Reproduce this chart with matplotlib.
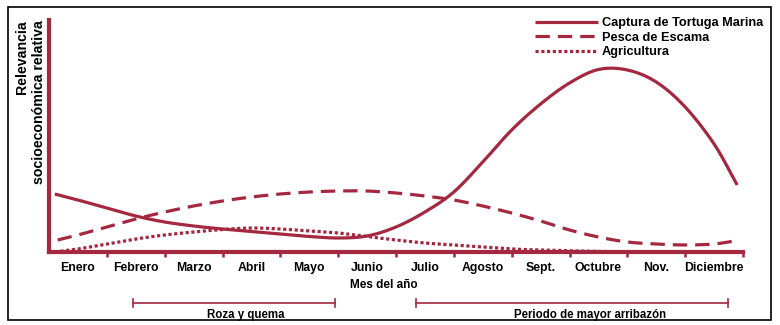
import matplotlib
matplotlib.use("Agg")
import matplotlib.pyplot as plt
import matplotlib.transforms as mtransforms
from matplotlib.patches import Rectangle
import numpy as np

plt.rcParams['font.family'] = ['Liberation Sans', 'DejaVu Sans']

# ---- data (x in months, 0 = start of Enero) ----
months = ["Enero", "Febrero", "Marzo", "Abril", "Mayo", "Junio", "Julio",
          "Agosto", "Sept.", "Octubre", "Nov.", "Diciembre"]

tortuga_x = [0.1, 0.5, 1.0, 1.5, 2.0, 2.5, 3.0, 3.5, 4.0, 4.5, 5.0, 5.5, 6.0,
             6.5, 7.0, 7.5, 8.0, 8.5, 9.0, 9.5, 10.0, 10.5, 11.0, 11.5, 11.9]
tortuga_y = [58, 52, 44, 36, 30, 26, 23, 20.5, 18, 15.5, 14, 16, 25,
             40, 60, 90, 122, 148, 169, 182.5, 182, 170, 145, 108, 67]

escama_x = [0.15, 0.5, 1.0, 1.5, 2.0, 2.5, 3.0, 3.5, 4.0, 4.5, 5.0, 5.5, 6.0,
            6.5, 7.0, 7.5, 8.0, 8.5, 9.0, 9.5, 10.0, 10.5, 11.0, 11.5, 11.85]
escama_y = [12, 17, 25, 33, 40, 46, 51, 55, 58, 60, 61, 61, 59,
            56, 52, 46, 39, 31, 22, 15, 10, 8, 7, 8, 11]

agri_x = [0.1, 0.5, 1.0, 1.5, 2.0, 2.5, 3.0, 3.5, 4.0, 4.5, 5.0, 5.5, 6.0,
          6.5, 7.0, 7.5, 8.0, 8.5, 9.0, 9.5, 10.0, 11.0, 11.9]
agri_y = [0, 3, 8, 13, 17, 20, 22.5, 24, 23, 21, 19, 15.5, 12,
          9, 7, 5, 3, 2, 1.2, 0.6, 0.2, 0, 0]

series_labels = ["Captura de Tortuga Marina", "Pesca de Escama", "Agricultura"]

periods = ["Roza y quema", "Periodo de mayor arribazón"]
period_start = [1.45, 6.34]
period_end = [4.95, 11.74]
period_label_x = [3.40, 9.36]


def smooth(xs, ys, n=12):
    """Catmull-Rom rendering of the read points (passes through every point)."""
    x = np.asarray(xs, float)
    y = np.asarray(ys, float)
    px = np.concatenate([[2 * x[0] - x[1]], x, [2 * x[-1] - x[-2]]])
    py = np.concatenate([[2 * y[0] - y[1]], y, [2 * y[-1] - y[-2]]])
    ox, oy = [], []
    t = np.linspace(0, 1, n, endpoint=False)
    for i in range(1, len(px) - 2):
        for arr, out in ((px, ox), (py, oy)):
            p0, p1, p2, p3 = arr[i - 1], arr[i], arr[i + 1], arr[i + 2]
            out.extend(0.5 * (2 * p1 + (-p0 + p2) * t +
                              (2 * p0 - 5 * p1 + 4 * p2 - p3) * t ** 2 +
                              (-p0 + 3 * p1 - 3 * p2 + p3) * t ** 3))
    ox.append(x[-1])
    oy.append(y[-1])
    return np.array(ox), np.array(oy)


# ---- styling ----
C = '#a4283f'
W, H = 780, 325
fig = plt.figure(figsize=(W / 100, H / 100), dpi=100)
ax = fig.add_axes([49 / W, (H - 252) / H, (743 - 49) / W, (252 - 20) / H])

ax.plot(*smooth(tortuga_x, tortuga_y), color=C, lw=2.3, solid_capstyle='butt',
        label=series_labels[0], zorder=3)
ax.plot(*smooth(escama_x, escama_y), color=C, lw=2.3, dashes=(4.5, 2.5),
        label=series_labels[1], zorder=3)
ax.plot(*smooth(agri_x, agri_y), color=C, lw=2.3, dashes=(1.0, 0.8),
        label=series_labels[2], zorder=3)

ax.set_xlim(0, 12)
ax.set_ylim(0, 232)

for s in ['top', 'right']:
    ax.spines[s].set_visible(False)
for s in ['left', 'bottom']:
    ax.spines[s].set_color(C)
    ax.spines[s].set_linewidth(3)
    ax.spines[s].set_zorder(4)

ax.set_yticks([])
centers = np.arange(len(months)) + 0.5
ax.set_xticks(centers)
ax.set_xticklabels(months, fontsize=8.8, fontweight='bold')
ax.tick_params(axis='x', which='major', length=0, pad=7)
ax.set_xticks(np.arange(1, 13), minor=True)
ax.tick_params(axis='x', which='minor', length=3.5, width=1.8, color=C)

# y label (two top-aligned rotated lines)
fig.text(22 / W, 1 - 20 / H, "Relevancia", rotation=90, ha='center', va='top',
         fontsize=10.2, fontweight='bold')
fig.text(39 / W, 1 - 20 / H, "socioeconómica relativa", rotation=90, ha='center',
         va='top', fontsize=10.2, fontweight='bold')

# x title
fig.text(384 / W, 1 - 285 / H, "Mes del año", ha='center', va='center',
         fontsize=8.5, fontweight='bold')

# period brackets
trans = mtransforms.blended_transform_factory(ax.transData, fig.transFigure)
ybar = 1 - 303 / H
cap = 4 / H
for name, a, b, lx in zip(periods, period_start, period_end, period_label_x):
    ax.plot([a, b], [ybar, ybar], color=C, lw=1.2, transform=trans, clip_on=False)
    for xx in (a, b):
        ax.plot([xx, xx], [ybar - cap, ybar + cap], color=C, lw=1.2,
                transform=trans, clip_on=False)
    ax.text(lx, 1 - 315 / H, name, transform=trans, ha='center',
            va='center', fontsize=8.3, fontweight='bold')

# legend
leg = ax.legend(loc='upper left', bbox_to_anchor=(535 / W, 1 - 17 / H),
                bbox_transform=fig.transFigure, frameon=False, fontsize=9.2,
                handlelength=4.9, handletextpad=0.35, labelspacing=0.2,
                borderpad=0, borderaxespad=0)
for t in leg.get_texts():
    t.set_fontweight('bold')

# outer border
fig.patches.append(Rectangle((8 / W, 5 / H), 763 / W, 313 / H, transform=fig.transFigure,
                             fill=False, edgecolor='black', lw=1.2))

fig.savefig("out.png", dpi=100)
